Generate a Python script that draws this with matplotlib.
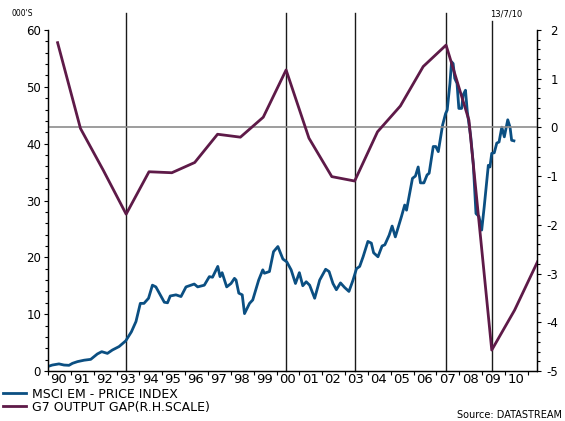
import matplotlib
matplotlib.use("Agg")
from matplotlib import pyplot as plt
from matplotlib.ticker import MultipleLocator, FixedLocator, NullFormatter
import numpy as np

plt.rcParams['font.family'] = ['DejaVu Sans']
plt.rcParams['axes.unicode_minus'] = False

# MSCI EM price index (000's), decimal years
msci_t = [1990.00, 1990.19, 1990.48, 1990.70, 1990.92, 1991.07, 1991.29, 1991.58, 1991.87,
          1992.16, 1992.35, 1992.60, 1992.82, 1993.11, 1993.40, 1993.65, 1993.85, 1994.04,
          1994.20, 1994.40, 1994.57, 1994.72, 1994.91, 1995.09, 1995.23, 1995.35, 1995.60,
          1995.82, 1996.04, 1996.26, 1996.40, 1996.55, 1996.84, 1997.06, 1997.20, 1997.43,
          1997.53, 1997.62, 1997.82, 1998.01, 1998.16, 1998.23, 1998.35, 1998.50, 1998.60,
          1998.82, 1998.96, 1999.22, 1999.40, 1999.47, 1999.69, 1999.87, 2000.06, 2000.28,
          2000.45, 2000.64, 2000.83, 2001.00, 2001.15, 2001.30, 2001.45, 2001.67, 2001.89,
          2002.15, 2002.30, 2002.47, 2002.62, 2002.80, 2002.98, 2003.17, 2003.35, 2003.50,
          2003.64, 2003.79, 2004.00, 2004.15, 2004.25, 2004.44, 2004.62, 2004.74, 2004.93,
          2005.06, 2005.20, 2005.36, 2005.47, 2005.61, 2005.69, 2005.83, 2005.95, 2006.08,
          2006.20, 2006.30, 2006.45, 2006.59, 2006.68, 2006.86, 2006.97, 2007.08, 2007.27,
          2007.40, 2007.47, 2007.59, 2007.66, 2007.73, 2007.80, 2007.90, 2007.98, 2008.10,
          2008.17, 2008.27, 2008.35, 2008.50, 2008.61, 2008.73, 2008.86, 2008.98, 2009.09,
          2009.27, 2009.34, 2009.42, 2009.53, 2009.64, 2009.74, 2009.86, 2009.97, 2010.12,
          2010.22, 2010.29, 2010.39]
msci_v = [0.8, 1.05, 1.25, 1.05, 1.0, 1.35, 1.65, 1.9, 2.05,
          3.0, 3.4, 3.1, 3.7, 4.3, 5.3, 6.9, 8.7, 11.9,
          11.9, 12.8, 15.1, 14.8, 13.4, 12.1, 12.0, 13.2, 13.4,
          13.1, 14.8, 15.1, 15.3, 14.8, 15.1, 16.6, 16.5, 18.4,
          16.6, 17.3, 14.8, 15.4, 16.3, 16.0, 13.7, 13.4, 10.1,
          11.9, 12.5, 16.0, 17.8, 17.2, 17.5, 21.0, 21.9, 19.7,
          19.2, 17.8, 15.4, 17.3, 15.0, 15.7, 15.1, 12.8, 16.0,
          17.9, 17.5, 15.4, 14.3, 15.5, 14.7, 14.0, 16.0, 18.0,
          18.4, 20.1, 22.8, 22.5, 20.8, 20.1, 22.0, 22.2, 23.9,
          25.5, 23.6, 25.7, 27.2, 29.2, 28.3, 31.3, 33.9, 34.3,
          35.9, 33.1, 33.1, 34.5, 34.8, 39.5, 39.5, 38.6, 43.3,
          45.3, 45.9, 50.6, 54.4, 54.1, 51.5, 50.6, 46.2, 46.2,
          48.6, 49.4, 45.6, 41.2, 36.5, 27.7, 27.2, 24.8, 28.9,
          36.2, 35.9, 38.3, 38.4, 40.1, 40.3, 42.9, 41.2, 44.2,
          42.9, 40.6, 40.5]

# G7 output gap (% , right scale), annual
gap_years = list(range(1990, 2012))
gap_v = [1.74, -0.02, -0.88, -1.78, -0.91, -0.93, -0.72, -0.14, -0.20, 0.21, 1.18,
         -0.22, -1.01, -1.10, -0.09, 0.44, 1.25, 1.69, 0.15, -4.57, -3.75, -2.76]
mid = 0.42  # annual values plotted mid-year

turn_years = [1993, 2000, 2003, 2007, 2009]
year_labels = ['%02d' % (y % 100) for y in range(1990, 2011)]

blue = '#0b4f82'
purple = '#5e1a48'

fig = plt.figure(figsize=(5.65, 4.21), dpi=100)
ax = fig.add_axes([48/565, 50/421, 489/565, 341/421])
ax2 = ax.twinx()

for i, y in enumerate(turn_years):
    top = 1.027 if i == len(turn_years) - 1 else 1.05
    ax.axvline(y + mid, ymin=0, ymax=top, color='#1a1a1a', lw=1.0, clip_on=False, zorder=1)
ax2.axhline(0, color='#8c8c8c', lw=1.2, zorder=1)

ax.plot(msci_t, msci_v, color=blue, lw=2.0, zorder=3, label='MSCI EM - PRICE INDEX')
ax2.plot(np.array(gap_years) + mid, gap_v, color=purple, lw=2.0, zorder=3,
         label='G7 OUTPUT GAP(R.H.SCALE)')

ax.set_xlim(1990.0, 2011.4)
ax.set_ylim(0, 60)
ax2.set_ylim(-5, 2)

ax.xaxis.set_major_locator(FixedLocator(range(1990, 2012)))
ax.xaxis.set_major_formatter(NullFormatter())
ax.xaxis.set_minor_locator(FixedLocator([y + 0.47 for y in range(1990, 2011)]))
ax.set_xticklabels(year_labels, minor=True)
ax.tick_params(axis='x', which='major', direction='out', length=3, width=0.8)
ax.tick_params(axis='x', which='minor', length=0, pad=1.5, labelsize=9.5)

ax.yaxis.set_major_locator(MultipleLocator(10))
ax.yaxis.set_minor_locator(MultipleLocator(2))
ax.tick_params(axis='y', which='major', direction='out', length=3, width=0.8, pad=2, labelsize=8.5)
ax.tick_params(axis='y', which='minor', direction='out', length=2, width=0.8)

ax2.yaxis.set_major_locator(MultipleLocator(1))
ax2.yaxis.set_minor_locator(MultipleLocator(0.2))
ax2.tick_params(axis='y', which='major', direction='out', length=3, width=0.8, pad=12, labelsize=8.5)
ax2.tick_params(axis='y', which='minor', direction='out', length=2, width=0.8)
for lab in ax2.get_yticklabels():
    lab.set_horizontalalignment('right')

for a in (ax, ax2):
    a.spines['top'].set_visible(False)
    for s in a.spines.values():
        s.set_linewidth(0.9)

fig.text(12/565, 1 - 14/421, "000'S", fontsize=5.5, va='center', ha='left')
fig.text(506/565, 1 - 14/421, '13/7/10', fontsize=6, va='center', ha='center')
fig.text(562/565, 1 - 415/421, 'Source: DATASTREAM', fontsize=7, va='center', ha='right')

h1, l1 = ax.get_legend_handles_labels()
h2, l2 = ax2.get_legend_handles_labels()
fig.legend(h1 + h2, l1 + l2, loc='upper left', bbox_to_anchor=(0.0, 1 - 385/421),
           frameon=False, fontsize=9, handlelength=1.9, handletextpad=0.5,
           labelspacing=0.0, borderpad=0.0, borderaxespad=0.2)

fig.savefig('out.png', dpi=100)
